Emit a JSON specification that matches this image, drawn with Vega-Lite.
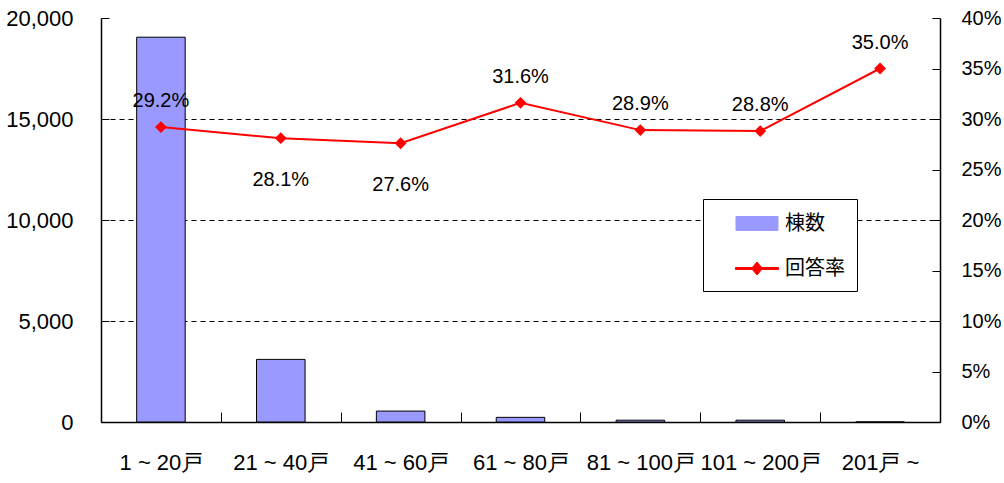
{
  "$schema": "https://vega.github.io/schema/vega-lite/v6.json",
  "width": 839,
  "height": 404,
  "autosize": {"type": "none"},
  "padding": {"left": 101, "top": 18, "right": 64, "bottom": 61},
  "background": "white",
  "config": {
    "view": {"stroke": null},
    "font": "Liberation Sans",
    "axis": {
      "domainColor": "black",
      "domainWidth": 1.5,
      "tickColor": "black",
      "tickWidth": 1,
      "labelColor": "black",
      "labelFont": "Liberation Sans",
      "labelFontSize": 22,
      "titleFontSize": 0
    }
  },
  "data": {
    "values": [
      {"cat": "1 ~ 20戸", "count": 19050, "rate": 0.292, "side": "above"},
      {"cat": "21 ~ 40戸", "count": 3100, "rate": 0.281, "side": "below"},
      {"cat": "41 ~ 60戸", "count": 540, "rate": 0.276, "side": "below"},
      {"cat": "61 ~ 80戸", "count": 230, "rate": 0.316, "side": "above"},
      {"cat": "81 ~ 100戸", "count": 90, "rate": 0.289, "side": "above"},
      {"cat": "101 ~ 200戸", "count": 90, "rate": 0.288, "side": "above"},
      {"cat": "201戸 ~", "count": 3, "rate": 0.35, "side": "above"}
    ]
  },
  "encoding": {
    "x": {
      "field": "cat",
      "type": "nominal",
      "sort": null,
      "title": null,
      "scale": {"paddingInner": 0, "paddingOuter": 0},
      "axis": {
        "labelAngle": 0,
        "tickBand": "extent",
        "tickSize": -10,
        "labelPadding": 40,
        "labelFontSize": 22
      }
    }
  },
  "layer": [
    {
      "mark": {"type": "bar", "stroke": "black", "strokeWidth": 1, "width": {"band": 0.405}},
      "encoding": {
        "y": {
          "field": "count",
          "type": "quantitative",
          "title": null,
          "scale": {"domain": [0, 20000], "nice": false},
          "axis": {
            "orient": "left",
            "values": [0, 5000, 10000, 15000, 20000],
            "format": ",.0f",
            "tickSize": -8,
            "labelPadding": 36,
            "grid": true,
            "gridColor": "black",
            "gridDash": [5, 4],
            "gridWidth": 1,
            "gridOpacity": {"condition": {"test": "datum.value === 0 || datum.value === 20000", "value": 0}, "value": 1}
          }
        },
        "color": {
          "datum": "棟数",
          "type": "nominal",
          "scale": {"domain": ["棟数", "回答率"], "range": ["#9999FF", "#FF0000"]},
          "legend": {
            "orient": "none",
            "legendX": 602,
            "legendY": 181,
            "title": null,
            "symbolSize": 576,
            "symbolType": {"expr": "datum.value === '棟数' ? 'M-1.75,-0.58H1.75V0.58H-1.75Z' : 'M-1.8,-0.08H1.8V0.08H-1.8Z M0,-0.54L0.46,0L0,0.54L-0.46,0Z'"},
            "symbolStrokeColor": {"expr": "datum.value === '棟数' ? '#000000' : '#FF0000'"},
            "symbolStrokeWidth": 1,
            "symbolOffset": 29.5,
            "labelOffset": 15.5,
            "labelFont": "Noto Sans CJK JP",
            "labelFontSize": 20,
            "labelColor": "black",
            "padding": 12,
            "rowPadding": 22,
            "strokeColor": "black",
            "fillColor": "white"
          }
        }
      }
    },
    {
      "layer": [
        {
          "mark": {"type": "line", "strokeWidth": 2, "point": {"shape": "diamond", "size": 140, "filled": true, "opacity": 1}},
          "encoding": {
            "y": {
              "field": "rate",
              "type": "quantitative",
              "title": null,
              "scale": {"domain": [0, 0.4], "nice": false},
              "axis": {
                "orient": "right",
                "values": [0, 0.05, 0.1, 0.15, 0.2, 0.25, 0.3, 0.35, 0.4],
                "format": ".0%",
                "tickSize": -8,
                "labelPadding": 29,
                "labelFontSize": 20,
                "grid": false
              }
            },
            "color": {"datum": "回答率", "type": "nominal", "legend": null}
          }
        },
        {
          "transform": [{"filter": "datum.side === 'above'"}],
          "mark": {"type": "text", "fontSize": 20, "font": "Liberation Sans", "color": "black", "dy": -26, "baseline": "middle"},
          "encoding": {
            "y": {"field": "rate", "type": "quantitative", "scale": {"domain": [0, 0.4], "nice": false}},
            "text": {"field": "rate", "type": "quantitative", "format": ".1%"}
          }
        },
        {
          "transform": [{"filter": "datum.side === 'below'"}],
          "mark": {"type": "text", "fontSize": 20, "font": "Liberation Sans", "color": "black", "dy": 42, "baseline": "middle"},
          "encoding": {
            "y": {"field": "rate", "type": "quantitative", "scale": {"domain": [0, 0.4], "nice": false}},
            "text": {"field": "rate", "type": "quantitative", "format": ".1%"}
          }
        }
      ]
    }
  ],
  "resolve": {"scale": {"y": "independent"}, "axis": {"y": "independent"}}
}
